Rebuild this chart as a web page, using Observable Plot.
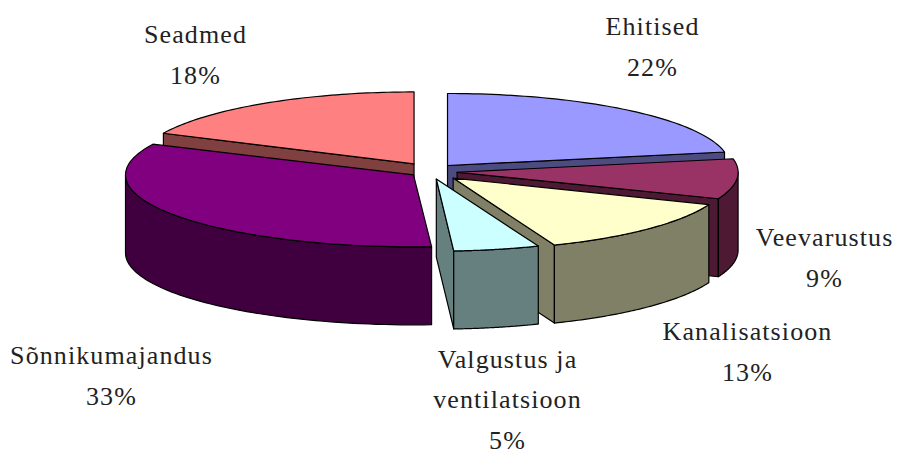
<!DOCTYPE html>
<html><head><meta charset="utf-8">
<style>html,body{margin:0;padding:0;background:#fff}</style>
<script src="https://cdn.jsdelivr.net/npm/d3@7"></script>
<script src="https://cdn.jsdelivr.net/npm/@observablehq/plot@0.6"></script>
</head><body><div id="chart"></div>
<script>
// Data
const categories = ["Ehitised","Veevarustus","Kanalisatsioon","Valgustus ja\nventilatsioon","Sõnnikumajandus","Seadmed"];
const shares = [22,9,13,5,33,18];
const topColors = ["#9999FF","#993366","#FFFFCC","#CCFFFF","#800080","#FF8080"];
const sideColors = ["#4C4C80","#4D1933","#808066","#668080","#400040","#804040"];
// Layout of the projected pie
const centerX = 430, centerY = 171, radiusY = 72, depth = 78, explodeX = 26.7, explodeY = 7.8;
const radiusX = [282,281,275,277,288,277];
const explode = [1,1,1.2,1,0.77,1.15];
const drawOrder = [5,0,1,4,2,3];
const labelX = [652,824,747,507,111,195];
const labelY = [42,253,347,395,371,50];

const rad = d => d * Math.PI / 180;
let acc = 0;
const slices = shares.map((s, i) => {
  const a0 = acc * 3.6; acc += s; const a1 = acc * 3.6; const mid = (a0 + a1) / 2;
  return {i, a0, a1,
    ax: centerX + explode[i] * explodeX * Math.sin(rad(mid)),
    ay: centerY - explode[i] * explodeY * Math.cos(rad(mid)),
    rx: radiusX[i]};
});
const rim = (s, a) => [s.ax + s.rx * Math.sin(rad(a)), s.ay - radiusY * Math.cos(rad(a))];
const arc = s => d3.range(0, 61).map(k => rim(s, s.a0 + (s.a1 - s.a0) * k / 60));
const rows = [];
function face(id, color, pts) {
  [...pts, pts[0]].forEach(([x, y]) => rows.push({id, color, x, y}));
}
const down = ([x, y]) => [x, y + depth];
for (const i of drawOrder) {
  const s = slices[i], apex = [s.ax, s.ay], side = sideColors[i];
  if (Math.cos(rad(s.a0 - 90)) < -1e-6) { const p = rim(s, s.a0); face(i + "a", side, [apex, p, down(p), down(apex)]); }
  if (Math.cos(rad(s.a1 + 90)) < -1e-6) { const p = rim(s, s.a1); face(i + "b", side, [apex, p, down(p), down(apex)]); }
  // outer wall: only the part of the rim at the front
  const lo = Math.max(s.a0, 90), hi = Math.min(s.a1, 270);
  if (hi > lo) {
    const front = d3.range(0, 61).map(k => rim(s, lo + (hi - lo) * k / 60));
    face(i + "w", side, [...front, ...front.slice().reverse().map(down)]);
  }
  face(i + "t", topColors[i], [apex, ...arc(s)]);
}
const labels = categories.map((c, i) => ({text: c + "\n" + shares[i] + "%", x: labelX[i], y: labelY[i]}));

const chart = Plot.plot({
  width: 899, height: 454, margin: 0,
  x: {domain: [0, 899], range: [0, 899], axis: null},
  y: {domain: [0, 454], range: [0, 454], axis: null},
  color: {type: "identity"},
  style: {background: "#fff", letterSpacing: "1.1px"},
  marks: [
    Plot.line(rows, {x: "x", y: "y", z: "id", fill: "color", stroke: "#000", strokeWidth: 1.2, curve: "linear"}),
    Plot.text(labels, {x: "x", y: "y", text: "text", fontSize: 26, lineHeight: 1.55, fontFamily: "Liberation Serif", fill: "#222"})
  ]
});
document.getElementById("chart").append(chart);
</script></body></html>
